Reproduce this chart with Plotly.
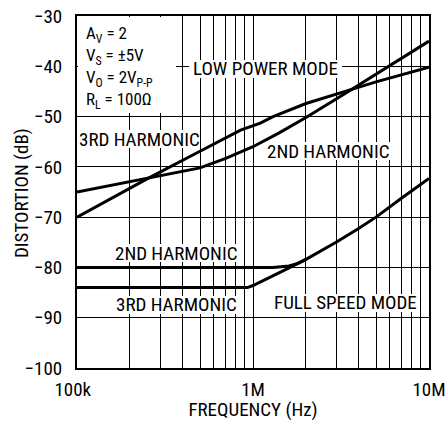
import plotly.graph_objects as go

# ---- data ----
lp_3rd_f = [1e5, 2.5e5, 5e5, 7e5, 1e6, 1.4e6, 2e6, 3.2e6, 5e6, 1e7]
lp_3rd_db = [-65, -62.3, -60.2, -58.3, -56.0, -53.3, -50.2, -45.8, -41.6, -35.0]

lp_2nd_f = [1e5, 2.5e5, 5e5, 7e5, 8.5e5, 1.1e6, 1.3e6, 2e6, 3.2e6, 5e6, 1e7]
lp_2nd_db = [-70, -62.4, -56.9, -54.2, -52.7, -51.3, -50.0, -47.4, -45.2, -43.1, -40.2]

fs_2nd_f = [1e5, 1.3e6, 1.6e6, 1.8e6, 2e6]
fs_2nd_db = [-80, -80, -79.7, -79.2, -78.4]

fs_3rd_f = [1e5, 9.3e5, 1e6, 1.2e6, 1.5e6, 2e6, 3e6, 4e6, 5e6, 7e6, 1e7]
fs_3rd_db = [-84, -84, -83.6, -82.3, -80.6, -78.4, -74.9, -72.2, -70.0, -66.2, -62.3]

x_tickvals = [1e5, 1e6, 1e7]
x_ticktext = ["100k\u2002", "1M", "10M"]
x_minorvals = [m * 10 ** e for e in (5, 6) for m in range(2, 10)]
y_tickvals = [-100, -90, -80, -70, -60, -50, -40, -30]
y_ticktext = ["\u2212100", "\u221290", "\u221280", "\u221270", "\u221260", "\u221250", "\u221240", "\u221230"]

FONT = "Roboto Condensed, Liberation Sans Narrow, DejaVu Sans Condensed, sans-serif"
FS = 19

fig = go.Figure()
for f, d in [(lp_3rd_f, lp_3rd_db), (lp_2nd_f, lp_2nd_db), (fs_2nd_f, fs_2nd_db), (fs_3rd_f, fs_3rd_db)]:
    fig.add_trace(go.Scatter(x=f, y=d, mode="lines", line=dict(color="black", width=3),
                             showlegend=False, hoverinfo="skip"))

W, H = 447, 421
L, R, T, B = 77, 18, 16, 53
pw, ph = W - L - R, H - T - B
XLOG0, XLOG1 = 5, 7
Y0, Y1 = -100, -30


def px(x):
    return (x - L) / pw


def py(y):
    return (H - B - y) / ph


def xdata(x):
    return 10 ** (XLOG0 + (XLOG1 - XLOG0) * px(x))


def ydata(y):
    return Y0 + (Y1 - Y0) * py(y)


def white_box(x0, x1, y0, y1):
    # pixel box -> data box, drawn above the grid but below the curves
    fig.add_shape(type="rect", xref="x", yref="y", x0=xdata(x0), x1=xdata(x1), y0=ydata(y1), y1=ydata(y0),
                  fillcolor="white", line=dict(width=0), layer="between")


# white box behind the conditions text
white_box(L + 1, 176, T + 1, 113)

fig.add_annotation(xref="paper", yref="paper", x=px(84), y=py(21), xanchor="left", yanchor="top",
                   align="left", showarrow=False,
                   text="A<sub>V</sub> = 2<br>V<sub>S</sub> = ±5V<br>V<sub>O</sub> = 2V<sub>P-P</sub><br>R<sub>L</sub> = 100Ω",
                   font=dict(family=FONT, size=17, color="black"))

labels = [
    ("LOW POWER MODE", 265, 69, (189, 342, 60, 78)),
    ("3RD HARMONIC", 139.5, 139, (79, 200, 130, 148)),
    ("2ND HARMONIC", 327.5, 151, (264, 391, 142, 160)),
    ("2ND HARMONIC", 176, 253, (113, 239, 244, 262)),
    ("3RD HARMONIC", 176, 304.5, (113, 239, 296, 314)),
    ("FULL SPEED MODE", 345, 302.5, (270, 420, 294, 312)),
]
for t, x, y, box in labels:
    white_box(*box)
    fig.add_annotation(xref="paper", yref="paper", x=px(x), y=py(y), xanchor="center", yanchor="middle",
                       showarrow=False, text=t,
                       font=dict(family=FONT, size=FS, color="black"))

# y axis title placed as rotated text
fig.add_annotation(xref="paper", yref="paper", x=px(21), y=py(193), xanchor="center", yanchor="middle",
                   showarrow=False, text="DISTORTION (dB)", textangle=-90,
                   font=dict(family=FONT, size=FS, color="black"))

axis_common = dict(showgrid=True, gridcolor="black", gridwidth=1, showline=True, linecolor="black",
                   linewidth=2, mirror=True, ticks="", zeroline=False, ticklabeloverflow="allow",
                   tickfont=dict(family=FONT, size=FS, color="black"))

fig.update_xaxes(type="log", range=[XLOG0, XLOG1], tickmode="array", tickvals=x_tickvals, ticktext=x_ticktext,
                 minor=dict(tickmode="array", tickvals=x_minorvals, showgrid=True, gridcolor="black",
                            gridwidth=1, ticks=""),
                 ticklabelstandoff=3,
                 title=dict(text="FREQUENCY (Hz)", font=dict(family=FONT, size=FS, color="black"), standoff=6),
                 **axis_common)
fig.update_yaxes(range=[Y0, Y1], tickmode="array", tickvals=y_tickvals, ticktext=y_ticktext,
                 ticklabelstandoff=9, **axis_common)

fig.update_layout(width=W, height=H, margin=dict(l=L, r=R, t=T, b=B, autoexpand=False),
                  paper_bgcolor="white", plot_bgcolor="white", font=dict(family=FONT, color="black"))

fig.write_html("out.html")
